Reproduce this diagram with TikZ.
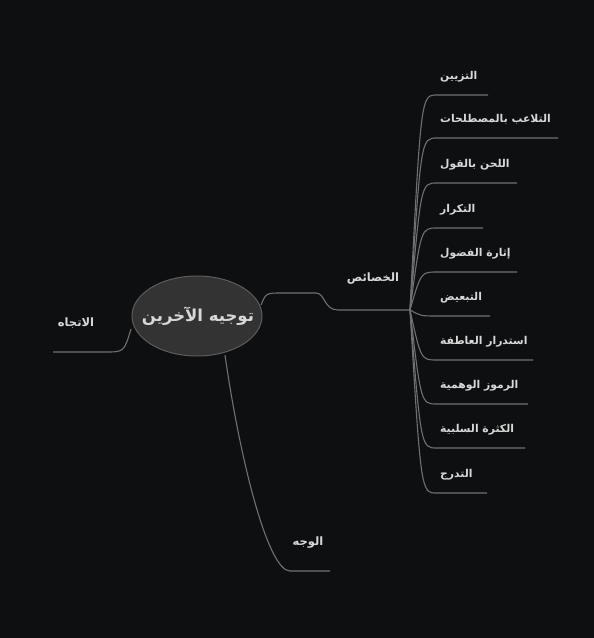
\documentclass[tikz,border=0pt]{standalone}
\usepackage{fontspec}
\newfontfamily\arabicfont[Script=Arabic]{DejaVu Sans}
\TeXXeTstate=1
\definecolor{bgc}{HTML}{0E0F11}
\definecolor{linec}{HTML}{707070}
\definecolor{txtc}{HTML}{D8D8D8}
\definecolor{rootfill}{HTML}{333333}
\definecolor{rootdraw}{HTML}{5C5C5C}
\usetikzlibrary{shapes.geometric}
\tikzset{
  conn/.style={draw=linec, line width=1.1pt},
  leaf/.style={anchor=base west, text=txtc, font=\arabicfont\bfseries\fontsize{10.8}{13}\selectfont, inner sep=0pt},
  midlbl/.style={anchor=base, text=txtc, font=\arabicfont\bfseries\fontsize{11.5}{13}\selectfont, inner sep=0pt},
  rootnode/.style={ellipse, fill=rootfill, draw=rootdraw, line width=1pt, minimum width=130pt, minimum height=80pt, inner sep=0pt},
  roottext/.style={text=txtc, font=\arabicfont\bfseries\fontsize{16.5}{19}\selectfont, inner sep=0pt}
}
\begin{document}
\begin{tikzpicture}[x=1pt,y=-1pt]
\fill[bgc] (0,0) rectangle (594,638);
\useasboundingbox (0,0) rectangle (594,638);
\node[rootnode] (root) at (197,316) {};
\node[roottext] (rootlbl) at (198,316) {\beginR توجيه الآخرين\endR};
% left branch
\node[midlbl] (ittijah) at (76,326) {\beginR الاتجاه\endR};
\coordinate (lA) at (53,352);
\draw[conn] (lA) -- (105,352) .. controls (124,352) .. (131,329);
% bottom branch
\node[midlbl] (wajh) at (308,545) {\beginR الوجه\endR};
\coordinate (bE) at (330,571);
\draw[conn] (225,355) .. controls (240,460) and (268,571) .. (290,571) -- (bE);
% right main branch
\node[midlbl] (khasais) at (373,281) {\beginR الخصائص\endR};
\coordinate (hub) at (410,310);
\draw[conn] (261,305) .. controls (266,293) .. (282,293) -- (316,293) .. controls (325,293) and (324,310) .. (338,310) -- (hub);
% leaves
\foreach \y/\xe/\t/\n in {
  95/488/التزيين/a,
  138/558/التلاعب بالمصطلحات/b,
  183/517/اللحن بالقول/c,
  228/483/التكرار/d,
  272/517/إثارة الفضول/e,
  316/490/التبعيض/f,
  360/533/استدرار العاطفة/g,
  404/528/الرموز الوهمية/h,
  448/525/الكثرة السلبية/i,
  493/487/التدرج/j} {
  \node[leaf] (leaf\n) at (440,\y-16) {\beginR \t\endR};
  \coordinate (end\n) at (\xe,\y);
  \draw[conn] (hub) .. controls (421,\y) .. (437,\y) -- (end\n);
}
\end{tikzpicture}
\end{document}
